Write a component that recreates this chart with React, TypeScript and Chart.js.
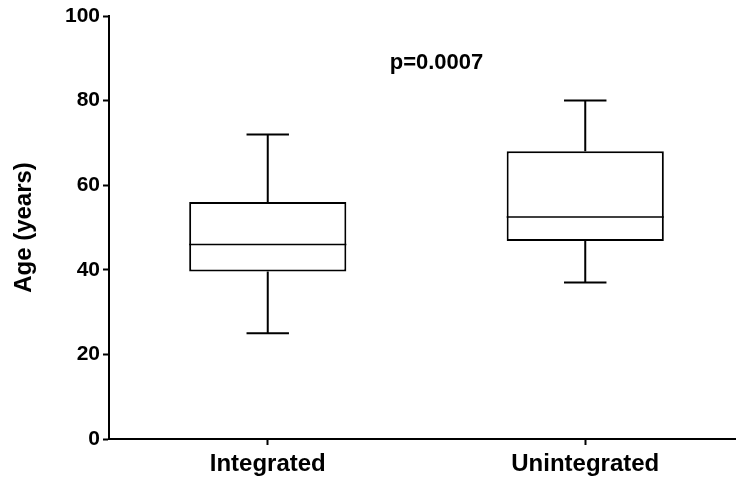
import React, { useEffect, useRef } from "react";
import { Chart, registerables } from "chart.js";

Chart.register(...registerables);

const categories = ["Integrated", "Unintegrated"];
const mins = [25, 37];
const q1s = [39.6, 46.8];
const medians = [46, 52.5];
const q3s = [56, 68];
const maxs = [72, 80];
const yTicks = [0, 20, 40, 60, 80, 100];
const pLabel = "p=0.0007";
const pValueY = 89;

const FONT = "Arial, 'Liberation Sans', Helvetica, sans-serif";

const boxPlugin = {
  id: "boxWhiskers",
  afterDatasetsDraw(chart: any) {
    const ctx = chart.ctx;
    const meta = chart.getDatasetMeta(0);
    const y = chart.scales.y;
    const x = chart.scales.x;
    ctx.save();
    ctx.strokeStyle = "#000";
    meta.data.forEach((bar: any, i: number) => {
      const cx = bar.x;
      const w = bar.width;
      const cap = w * 0.27;
      const yMin = y.getPixelForValue(mins[i]);
      const yMax = y.getPixelForValue(maxs[i]);
      const yQ1 = y.getPixelForValue(q1s[i]);
      const yQ3 = y.getPixelForValue(q3s[i]);
      const yMed = y.getPixelForValue(medians[i]);
      ctx.lineWidth = 2;
      ctx.beginPath();
      ctx.moveTo(cx, yQ3);
      ctx.lineTo(cx, yMax);
      ctx.moveTo(cx - cap / 2, yMax);
      ctx.lineTo(cx + cap / 2, yMax);
      ctx.moveTo(cx, yQ1);
      ctx.lineTo(cx, yMin);
      ctx.moveTo(cx - cap / 2, yMin);
      ctx.lineTo(cx + cap / 2, yMin);
      ctx.stroke();
      ctx.lineWidth = 1.5;
      ctx.beginPath();
      ctx.moveTo(cx - w / 2, yMed);
      ctx.lineTo(cx + w / 2, yMed);
      ctx.stroke();
    });
    // p-value annotation
    const px = (x.getPixelForValue(0) + x.getPixelForValue(1)) / 2 + 10;
    const py = y.getPixelForValue(pValueY);
    ctx.fillStyle = "#000";
    ctx.font = `bold 22px ${FONT}`;
    ctx.textAlign = "center";
    ctx.textBaseline = "middle";
    ctx.fillText(pLabel, px, py);
    ctx.restore();
  },
};

export default function App() {
  const ref = useRef<HTMLCanvasElement>(null);
  useEffect(() => {
    const canvas = ref.current!;
    const chart = new Chart(canvas, {
      type: "bar",
      data: {
        labels: categories,
        datasets: [
          {
            data: categories.map((_, i) => [q1s[i], q3s[i]]) as any,
            backgroundColor: "#fff",
            borderColor: "#000",
            borderWidth: 2,
            borderSkipped: false,
            barPercentage: 0.495,
            categoryPercentage: 1,
          },
        ],
      },
      options: {
        responsive: false,
        animation: false,
        devicePixelRatio: 1,
        layout: { padding: { top: 16, right: 1, left: 0, bottom: 0 } },
        plugins: {
          legend: { display: false },
          tooltip: { enabled: false },
        },
        scales: {
          x: {
            offset: true,
            grid: {
              display: true,
              drawOnChartArea: false,
              drawTicks: true,
              tickLength: 6,
              tickWidth: 2,
              color: "#000",
              offset: false,
            },
            border: { display: true, color: "#000", width: 2 },
            ticks: {
              color: "#000",
              padding: 5,
              font: { family: FONT, size: 24, weight: "bold" },
            },
            afterFit(scale: any) {
              scale.height = 40;
            },
          },
          y: {
            min: 0,
            max: 100,
            afterBuildTicks(scale: any) {
              scale.ticks = yTicks.map((v) => ({ value: v }));
            },
            grid: {
              display: true,
              drawOnChartArea: false,
              drawTicks: true,
              tickLength: 6,
              tickWidth: 2,
              color: "#000",
            },
            border: { display: true, color: "#000", width: 2 },
            ticks: {
              color: "#000",
              padding: 3,
              font: { family: FONT, size: 21, weight: "bold" },
            },
            title: {
              display: true,
              text: "Age (years)",
              color: "#000",
              padding: { top: 10, bottom: 0 },
              font: { family: FONT, size: 24, weight: "bold" },
            },
            afterFit(scale: any) {
              scale.width = 109;
            },
          },
        },
      },
      plugins: [boxPlugin],
    });
    return () => chart.destroy();
  }, []);
  return (
    <div
      style={{
        position: "absolute",
        left: 0,
        top: 0,
        width: 736,
        height: 479,
        overflow: "hidden",
        background: "#fff",
      }}
    >
      <canvas ref={ref} width={745} height={479} style={{ display: "block" }} />
    </div>
  );
}
